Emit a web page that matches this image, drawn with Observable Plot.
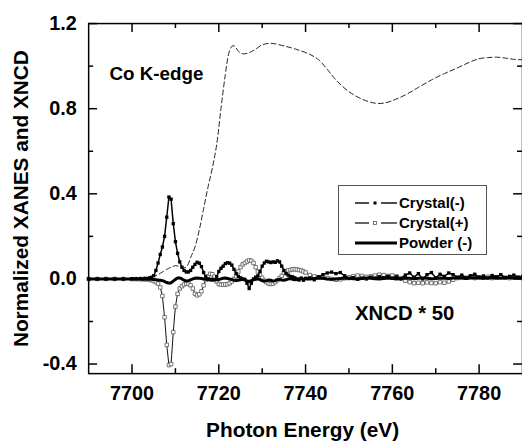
<!DOCTYPE html>
<html><head><meta charset="utf-8">
<script src="https://cdn.jsdelivr.net/npm/d3@7"></script>
<script src="https://cdn.jsdelivr.net/npm/@observablehq/plot@0.6"></script>
<style>
html,body{margin:0;padding:0;background:#fff;overflow:hidden;}
#wrap{position:relative;width:522px;height:443px;overflow:hidden;font-family:"Liberation Sans",Arial,sans-serif;font-weight:bold;color:#000;}
#legend{position:absolute;left:338px;top:185px;width:149px;height:70px;border:1px solid #555;background:#fff;box-sizing:border-box;}
.row{position:absolute;left:0;height:20px;width:100%;}
.row svg{position:absolute;left:16px;top:3px;}
.row span{position:absolute;left:60px;top:0;font-size:15px;line-height:20px;}
</style>
</head><body>
<div id="wrap"></div>
<script>
// ---- data ----
const xanesE = [7690,7695,7700,7703,7705,7706,7707,7708,7709,7710,7711,7712,7712.7,7713.5,7714.5,7715.5,7716.5,7717.5,7718.5,7719.5,7720.5,7721.5,7722.3,7723,7723.6,7724.5,7725.5,7726.5,7727.5,7728.5,7730,7732,7735,7738,7741,7743,7745,7747,7750,7753,7756,7758,7760,7763,7766,7769,7772,7775,7778,7780,7782,7784,7786,7788,7790];
const xanesV = [0,0,0.002,0.005,0.012,0.02,0.033,0.045,0.055,0.062,0.058,0.052,0.06,0.1,0.15,0.23,0.33,0.43,0.52,0.63,0.8,0.96,1.06,1.093,1.095,1.07,1.058,1.06,1.068,1.08,1.1,1.107,1.095,1.078,1.055,1.03,0.985,0.935,0.88,0.845,0.826,0.826,0.838,0.865,0.9,0.935,0.965,0.992,1.02,1.035,1.04,1.042,1.038,1.032,1.03];

const xncdE = [
  7690,7692,7694,7696,7698,7700,7701,7702,7703,7704,
  7704.5,7705,7705.5,7706,7706.5,7707,7707.5,7708,7708.5,7709,7709.5,7710,7710.5,7711,7711.5,7712,7712.5,7713,7713.5,7714,7714.5,7715,7715.5,7716,7716.5,7717,7717.5,7718,
  7718.5,7719,7719.5,7720,7720.5,7721,7721.5,7722,7722.5,7723,7723.5,7724,7724.5,7725,7725.5,7726,7726.5,7727,7727.5,7728,7728.5,7729,7729.5,7730,7730.5,7731,7731.5,7732,7732.5,7733,7733.5,7734,7734.5,7735,7735.5,7736,7736.5,7737,7737.5,7738,7738.5,7739,7739.5,7740,
  7741,7742,7743,7744,7745,7746,7747,7748,7749,7750,7751,7752,7753,7754,7755,7756,7757,7758,7759,7760,7761,7762,7763,7764,7765,7766,7767,7768,7769,7770,7771,7772,7773,7774,7775,7776,7777,7778,7779,7780,7781,7782,7783,7784,7785,7786,7787,7788,7789,7790
];
const crystalMinus = [
  0,0,0,0,0,0.001,0.001,0.002,0.003,0.005,
  0.008,0.015,0.04,0.075,0.115,0.15,0.2,0.29,0.385,0.375,0.26,0.175,0.12,0.08,0.055,0.04,0.033,0.033,0.04,0.055,0.068,0.078,0.074,0.058,0.03,0.01,0.0,-0.004,
  -0.005,-0.004,0.01,0.035,0.05,0.06,0.072,0.076,0.074,0.065,0.045,0.025,0.012,0.005,0.0,-0.002,-0.02,-0.045,-0.02,0.0,0.008,0.014,0.035,0.06,0.075,0.083,0.08,0.077,0.08,0.078,0.085,0.08,0.06,0.04,0.025,0.018,0.012,0.01,0.005,0.0,-0.005,0.004,-0.006,0.003,
  0.005,-0.004,0.01,0.02,0.028,0.032,0.025,0.03,0.015,0.002,0.006,-0.002,0.004,0.0,0.008,0.004,0.01,0.006,0.012,0.004,0.01,0.0,0.018,0.028,0.008,0.025,0.0,0.02,0.03,0.005,0.022,0.012,0.028,0.02,0.008,0.018,0.005,0.015,0.022,0.008,0.014,0.004,0.016,0.01,0.02,0.006,0.012,0.018,0.008,0.012
];
const crystalPlus = [
  0,0,0,0,0,-0.001,-0.001,-0.002,-0.003,-0.004,
  -0.006,-0.01,-0.015,-0.022,-0.04,-0.08,-0.18,-0.31,-0.405,-0.4,-0.25,-0.13,-0.07,-0.045,-0.034,-0.026,-0.022,-0.023,-0.03,-0.045,-0.07,-0.077,-0.072,-0.058,-0.03,-0.005,0.012,0.024,
  0.022,0.01,-0.012,-0.024,-0.026,-0.027,-0.026,-0.025,-0.02,-0.012,0.0,0.012,0.035,0.055,0.068,0.075,0.082,0.088,0.085,0.075,0.055,0.035,0.02,0.005,-0.008,-0.016,-0.022,-0.024,-0.022,-0.015,-0.006,0.003,0.015,0.028,0.035,0.04,0.042,0.045,0.046,0.044,0.042,0.04,0.035,0.03,
  0.018,0.012,0.008,0.006,0.004,0.0,-0.004,-0.002,0.003,0.008,0.012,0.016,0.014,0.01,0.012,0.016,0.02,0.018,0.014,0.016,0.012,0.004,-0.008,-0.015,-0.02,-0.018,-0.02,-0.016,-0.019,-0.02,-0.015,-0.018,-0.012,-0.004,0.004,0.008,0.006,0.01,0.004,0.008,0.006,0.01,0.004,0.006,0.01,0.006,0.004,0.008,0.006,0.004
];
const powderMinus = [
  0,0,0,0,0,0,0,-0.001,-0.001,-0.002,
  -0.002,-0.003,-0.004,-0.005,-0.006,-0.008,-0.012,-0.017,-0.02,-0.018,-0.01,-0.002,0.004,0.005,0.0,-0.006,-0.01,-0.008,-0.004,0.0,0.003,0.004,0.003,0.002,0.0,-0.002,-0.003,-0.002,
  0.0,-0.002,-0.004,-0.003,0.0,0.003,0.004,0.002,0.0,-0.003,-0.006,-0.008,-0.006,-0.004,-0.002,-0.005,-0.01,-0.012,-0.008,-0.004,-0.002,0.0,-0.003,-0.008,-0.01,-0.008,-0.005,-0.006,-0.01,-0.008,-0.004,-0.002,-0.005,-0.006,-0.004,0.0,0.002,-0.002,-0.004,-0.003,0.0,0.002,-0.001,0.0,
  0.0,0.002,0.004,0.003,0.0,-0.002,0.0,0.002,0.004,0.003,0.001,0.0,0.002,0.004,0.003,0.001,0.0,0.002,0.004,0.002,0.0,0.002,0.004,0.003,0.001,0.003,0.005,0.003,0.001,0.002,0.004,0.003,0.002,0.004,0.006,0.004,0.002,0.004,0.006,0.004,0.003,0.005,0.006,0.004,0.003,0.005,0.006,0.004,0.005,0.004
];
const xMajor = [7700,7720,7740,7760,7780];
const xMinor = [7710,7730,7750,7770];
const yMajor = [-0.4,0,0.4,0.8,1.2];
const yMinor = [-0.2,0.2,0.6,1.0];
const notes1 = [{x:7694.8, y:0.963, text:"Co K-edge"}];
const notes2 = [{x:7751.4, y:-0.163, text:"XNCD * 50"}];
const xTitle = ["Photon Energy (eV)"];
const yTitle = ["Normalized XANES and XNCD"];
const legendItems = ["Crystal(-)", "Crystal(+)", "Powder (-)"];

// ---- tables ----
const xanes = xanesE.map((e,i)=>({e, v: xanesV[i]}));
const xncd = xncdE.map((e,i)=>({e, cm: crystalMinus[i], cp: crystalPlus[i], pw: powderMinus[i]}));

const W = 527, H = 443, ML = 89, MR = 0, MT = 23.3, MB = 66.3;
const FW = W - ML - MR, FH = H - MT - MB;

const chart = Plot.plot({
  width: W, height: H,
  marginLeft: ML, marginRight: MR, marginTop: MT, marginBottom: MB,
  x: {domain: [7690, 7790]},
  y: {domain: [-0.445, 1.2]},
  style: {fontFamily: '"Liberation Sans", Arial, sans-serif', fontWeight: "bold", fontSize: "20px", color: "#000", background: "#fff", overflow: "visible"},
  marks: [
    Plot.line(xanes, {x: "e", y: "v", stroke: "#222", strokeWidth: 1, strokeDasharray: "5,3", curve: "catmull-rom"}),
    Plot.line(xncd, {x: "e", y: "cp", stroke: "#111", strokeWidth: 1}),
    Plot.dot(xncd, {x: "e", y: "cp", symbol: "square", r: 2, fill: "#fff", stroke: "#555", strokeWidth: 0.8}),
    Plot.line(xncd, {x: "e", y: "cm", stroke: "#000", strokeWidth: 1.5}),
    Plot.dot(xncd, {x: "e", y: "cm", symbol: "square", r: 1.9, fill: "#000", stroke: "none"}),
    Plot.line(xncd, {x: "e", y: "pw", stroke: "#000", strokeWidth: 3}),
    Plot.frame({stroke: "#000", strokeWidth: 1.5}),
    // ticks (inward)
    Plot.ruleX(xMajor, {x: d => d, insetTop: FH - 9, stroke: "#000", strokeWidth: 1.5}),
    Plot.ruleX(xMajor, {x: d => d, insetBottom: FH - 9, stroke: "#000", strokeWidth: 1.5}),
    Plot.ruleX(xMinor, {x: d => d, insetTop: FH - 5, stroke: "#000", strokeWidth: 1.5}),
    Plot.ruleX(xMinor, {x: d => d, insetBottom: FH - 5, stroke: "#000", strokeWidth: 1.5}),
    Plot.ruleY(yMajor, {y: d => d, insetRight: FW - 9, stroke: "#000", strokeWidth: 1.5}),
    Plot.ruleY(yMajor, {y: d => d, insetLeft: FW - 9, stroke: "#000", strokeWidth: 1.5}),
    Plot.ruleY(yMinor, {y: d => d, insetRight: FW - 5, stroke: "#000", strokeWidth: 1.5}),
    Plot.ruleY(yMinor, {y: d => d, insetLeft: FW - 5, stroke: "#000", strokeWidth: 1.5}),
    Plot.axisX(xMajor, {anchor: "bottom", tickSize: 0, tickPadding: 12, fontSize: 20, fontWeight: "bold", label: null, tickFormat: d => String(d)}),
    Plot.axisY(yMajor, {anchor: "left", tickSize: 0, tickPadding: 12, fontSize: 20, fontWeight: "bold", label: null, tickFormat: d => d.toFixed(1)}),
    Plot.text(notes1, {x: "x", y: "y", text: "text", textAnchor: "start", lineAnchor: "middle", fontSize: 19, fontWeight: "bold", fill: "#000"}),
    Plot.text(notes2, {x: "x", y: "y", text: "text", textAnchor: "start", lineAnchor: "middle", fontSize: 20.5, fontWeight: "bold", fill: "#000"}),
    Plot.text(xTitle, {text: d => d, frameAnchor: "bottom", dy: 57.5, dx: -3, textAnchor: "middle", lineAnchor: "middle", fontSize: 21, fontWeight: "bold", fill: "#000"}),
    Plot.text(yTitle, {text: d => d, frameAnchor: "left", dx: -68, rotate: -90, textAnchor: "middle", lineAnchor: "middle", fontSize: 21, fontWeight: "bold", fill: "#000"})
  ]
});
const wrap = document.getElementById("wrap");
wrap.appendChild(chart);

// legend
const legend = document.createElement("div");
legend.id = "legend";
const samples = [
  '<svg width="42" height="14"><line x1="0" y1="7" x2="14" y2="7" stroke="#000" stroke-width="1.4"/><rect x="18.5" y="5.5" width="3" height="3" fill="#000"/><line x1="26" y1="7" x2="42" y2="7" stroke="#000" stroke-width="1.4"/></svg>',
  '<svg width="42" height="14"><line x1="0" y1="7" x2="14" y2="7" stroke="#000" stroke-width="1.2"/><rect x="18.5" y="5.5" width="3" height="3" fill="#fff" stroke="#555" stroke-width="0.8"/><line x1="26" y1="7" x2="42" y2="7" stroke="#000" stroke-width="1.2"/></svg>',
  '<svg width="42" height="14"><line x1="0" y1="7" x2="42" y2="7" stroke="#000" stroke-width="3"/></svg>'
];
legendItems.forEach((name, i) => {
  const row = document.createElement("div");
  row.className = "row";
  row.style.top = (7 + i * 20) + "px";
  row.innerHTML = samples[i] + "<span>" + name + "</span>";
  legend.appendChild(row);
});
wrap.appendChild(legend);
</script>
</body></html>
